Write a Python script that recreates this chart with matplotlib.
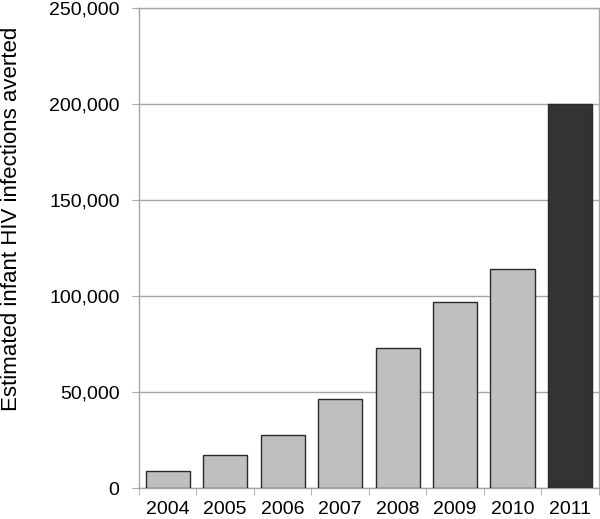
import numpy as np
import matplotlib
matplotlib.use("Agg")
import matplotlib.pyplot as plt
from matplotlib.ticker import FuncFormatter

plt.rcParams['font.family'] = ['Liberation Sans', 'DejaVu Sans']

years = ['2004', '2005', '2006', '2007', '2008', '2009', '2010', '2011']
averted = [9000, 17200, 27600, 46400, 72800, 96900, 114300, 200000]
colors = ['#bfbfbf'] * 7 + ['#333333']

fig = plt.figure(figsize=(6, 5.19), dpi=100)
ax = fig.add_axes([0.2317, 0.0597, 0.7663, 0.9249])

x = np.arange(len(years))
ax.bar(x, averted, width=0.77, color=colors, edgecolor='#2a2a2a', linewidth=1.0, zorder=3)

ax.set_xlim(-0.5, len(years) - 0.5)
ax.set_ylim(0, 250000)
ax.set_yticks(np.arange(0, 250001, 50000))
ax.yaxis.set_major_formatter(FuncFormatter(lambda v, p: f'{int(v):,}'))
ax.yaxis.grid(True, color='#a6a6a6', linewidth=1.0, zorder=0)

# category ticks between bars
ax.set_xticks(x)
ax.set_xticklabels(years)
ax.tick_params(axis='x', length=0, labelsize=14, pad=9)
ax.set_xticks(np.arange(-0.5, len(years)), minor=True)
ax.tick_params(axis='x', which='minor', length=5, color='#a6a6a6', direction='out')
ax.tick_params(axis='y', length=5, color='#a6a6a6', labelsize=14, pad=9)

for s in ax.spines.values():
    s.set_color('#a6a6a6')
    s.set_linewidth(1.0)

fig.text(0.002, 1 - 219 / 519, 'Estimated infant HIV infections averted',
         rotation=90, ha='left', va='center', fontsize=16)

fig.savefig('out.png', dpi=100)
